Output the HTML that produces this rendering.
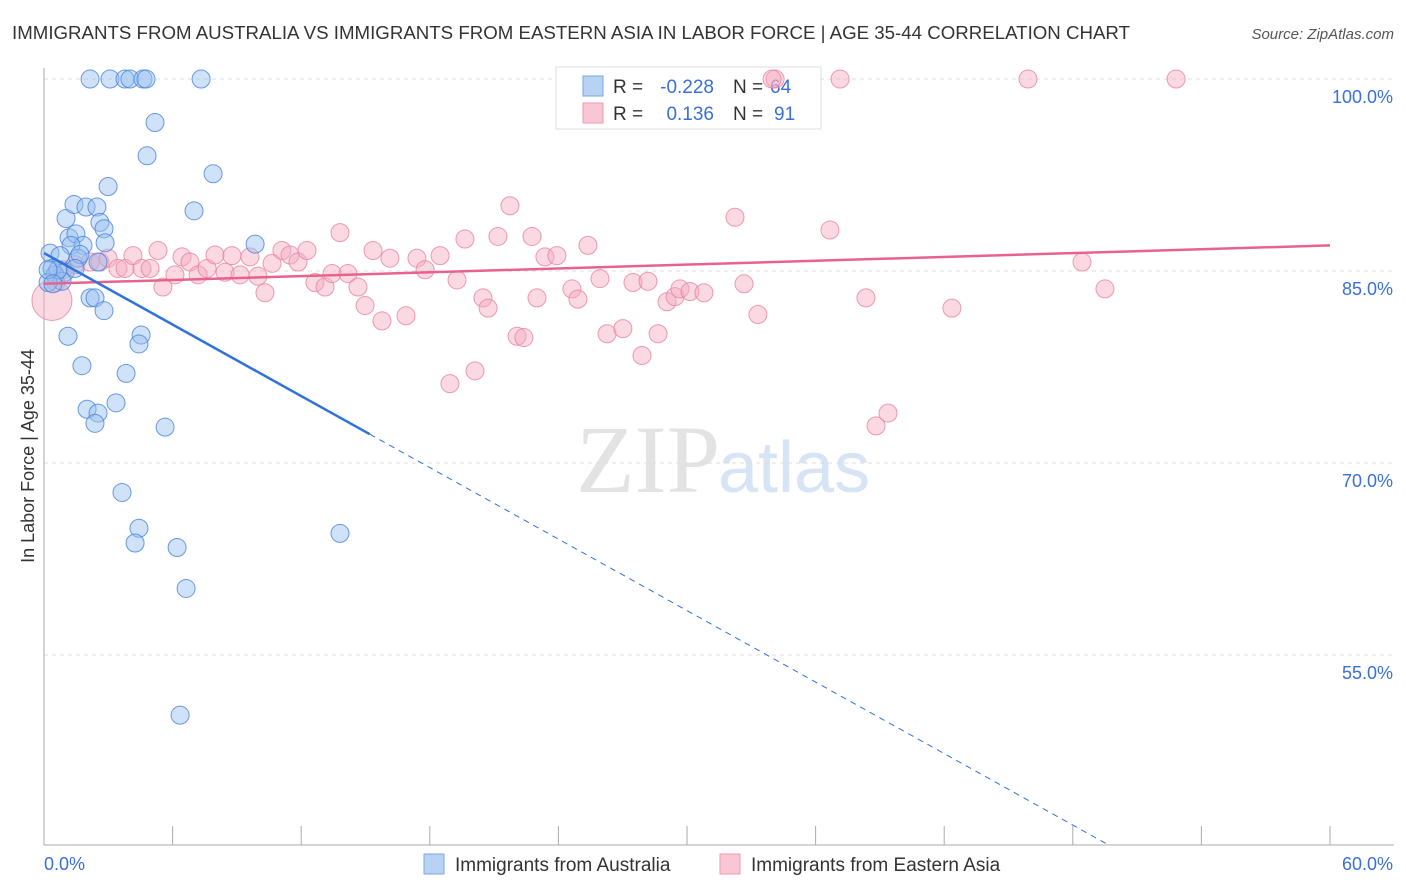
<!DOCTYPE html>
<html><head><meta charset="utf-8"><style>
body{margin:0;background:#fff;font-family:"Liberation Sans",sans-serif}
svg{display:block}
</style></head><body>
<svg id="chart" width="1406" height="892">
<text x="12" y="39" font-size="18" fill="#333" textLength="1118" lengthAdjust="spacingAndGlyphs">IMMIGRANTS FROM AUSTRALIA VS IMMIGRANTS FROM EASTERN ASIA IN LABOR FORCE | AGE 35-44 CORRELATION CHART</text>
<text x="1394" y="39" font-size="15" fill="#555" font-style="italic" text-anchor="end">Source: ZipAtlas.com</text>
<text x="34" y="456" font-size="18" fill="#333" transform="rotate(-90 34 456)" text-anchor="middle">In Labor Force | Age 35-44</text>
<text x="720" y="492" font-size="96" fill="#e3e3e3" text-anchor="end" font-family="Liberation Serif,serif">ZIP</text>
<text x="718" y="492" font-size="72" fill="#d6e4f5">atlas</text>
<g id="grid"></g>
<g>
<rect x="556" y="67" width="265" height="62" fill="#fff" stroke="#ddd"/>
<rect x="583" y="76" width="20" height="20" fill="#b8d2f4" stroke="#7aa6e2"/>
<rect x="583" y="103" width="20" height="20" fill="#f8c6d4" stroke="#ee9ab2"/>
<text x="613" y="93" font-size="19" fill="#333">R =</text>
<text x="714" y="93" font-size="19" fill="#3a6fd8" text-anchor="end">-0.228</text>
<text x="733" y="93" font-size="19" fill="#333">N =</text>
<text x="770" y="93" font-size="19" fill="#3a6fd8">64</text>
<text x="613" y="120" font-size="19" fill="#333">R =</text>
<text x="714" y="120" font-size="19" fill="#3a6fd8" text-anchor="end">0.136</text>
<text x="733" y="120" font-size="19" fill="#333">N =</text>
<text x="774" y="120" font-size="19" fill="#3a6fd8">91</text>
</g>
<g id="pts"></g><g id="trend"></g>
<g>
<rect x="424" y="854" width="20" height="20" fill="#b8d2f4" stroke="#7aa6e2"/>
<text x="455" y="871" font-size="19" fill="#333">Immigrants from Australia</text>
<rect x="720" y="854" width="20" height="20" fill="#f8c6d4" stroke="#ee9ab2"/>
<text x="751" y="871" font-size="19" fill="#333">Immigrants from Eastern Asia</text>
</g>
<text x="44" y="870" font-size="18" fill="#3a6fd8">0.0%</text>
<text x="1393" y="870" font-size="18" fill="#3a6fd8" text-anchor="end">60.0%</text>
</svg>
<script>
const yTicks=[100,85,70,55];
const yTickLabels=["100.0%","85.0%","70.0%","55.0%"];
const blueX=[2.15,3.08,3.78,4.01,4.62,4.76,7.33,5.18,4.81,7.89,2.99,7.0,1.03,1.40,1.96,2.47,2.61,2.80,1.17,1.49,1.82,1.26,2.85,9.85,0.28,0.75,1.59,1.68,2.52,0.37,0.98,1.45,0.51,0.84,0.19,2.15,2.38,2.80,1.12,4.53,4.43,1.77,3.83,3.36,2.01,2.52,2.38,5.65,3.64,4.43,4.25,6.21,6.63,13.81,6.35,0.65,0.19,0.42];
const blueY=[100,100,100,100,100,100,100,96.6,94.0,92.6,91.6,89.7,89.1,90.2,90.0,90.0,88.8,88.3,87.6,87.9,87.0,87.0,87.2,87.1,86.4,86.2,86.0,86.3,85.7,85.2,84.9,85.2,84.7,84.2,84.1,82.9,82.9,81.9,79.9,80.0,79.3,77.6,77.0,74.7,74.2,73.9,73.1,72.8,67.7,64.9,63.75,63.4,60.2,64.5,50.3,85.1,85.1,84.0];
const pinkX=[0.56,0.89,1.45,2.15,2.61,2.99,3.45,3.78,4.15,4.57,4.95,5.32,5.55,6.11,6.44,6.81,7.19,7.61,7.98,8.45,8.77,9.15,9.61,9.98,10.31,10.64,11.10,11.48,11.85,12.27,12.64,13.11,13.44,13.81,14.18,14.65,14.98,15.35,15.77,16.14,16.89,17.40,17.78,18.48,18.94,19.27,19.64,20.11,20.48,20.72,21.18,21.74,22.07,22.39,22.77,23.00,23.37,23.93,24.63,24.91,25.38,25.94,26.27,27.01,27.48,27.90,28.18,28.65,29.07,29.44,29.67,30.14,30.79,32.24,32.66,33.31,34.11,36.67,37.14,38.35,38.82,39.38,42.36,45.91,48.43,49.50,52.82,33.97];
const pinkY=[84.1,85.1,85.5,85.7,85.7,86.0,85.2,85.2,86.2,85.2,85.2,86.6,83.75,84.7,86.1,85.7,84.7,85.2,86.25,84.9,86.2,84.7,86.1,84.6,83.3,85.6,86.6,86.25,85.7,86.6,84.1,83.75,84.8,88.0,84.8,83.75,82.3,86.6,81.1,86.0,81.5,86.0,85.1,86.2,76.2,84.3,87.5,77.2,82.9,82.1,87.7,90.1,79.9,79.8,87.7,82.9,86.1,86.2,83.6,82.8,87.0,84.4,80.1,80.5,84.1,78.4,84.2,80.1,82.6,83.0,83.6,83.4,83.3,89.2,84.0,81.6,100,88.2,100,82.9,72.9,73.9,82.1,100,85.7,83.6,100,100];
const bigPinkX=[0.37], bigPinkY=[82.7];
const blueTrend=[86.4,-0.931], pinkTrend=[84.0,0.05];
const X=v=>44+v/60*1286, Y=v=>79+(100-v)*12.8;
const ns="http://www.w3.org/2000/svg";
function mk(p,t,a){const e=document.createElementNS(ns,t);for(const k in a)e.setAttribute(k,a[k]);p.appendChild(e);return e;}
const g=document.getElementById('grid');
yTicks.forEach((t,i)=>{
 const l=mk(g,'line',{x1:44,x2:1394,y1:Y(t),y2:Y(t),stroke:'#ddd','stroke-dasharray':'4,4'});
 
 
 const tx=mk(g,'text',{x:1393,y:Y(t)+24,'font-size':18,fill:'#3a6fd8','text-anchor':'end'});
 tx.textContent=yTickLabels[i];
 
 
});
const ax=mk(g,'line',{x1:44,x2:44,y1:68,y2:845,stroke:'#aaa'});


const bx=mk(g,'line',{x1:44,x2:1394,y1:845,y2:845,stroke:'#aaa'});


for(let i=0;i<=10;i++){const t=mk(g,'line',{x1:X(i*6),x2:X(i*6),y1:826,y2:845,stroke:'#aaa'});
 
 }
const p=document.getElementById('pts');
pinkX.forEach((x,i)=>{const c=mk(p,'circle',{cx:X(x),cy:Y(pinkY[i]),r:9,fill:'rgba(245,170,192,0.45)',stroke:'rgba(232,130,160,0.8)','stroke-width':1});
 
 });
bigPinkX.forEach((x,i)=>{const c=mk(p,'circle',{cx:X(x),cy:Y(bigPinkY[i]),r:20,fill:'rgba(245,170,192,0.45)',stroke:'rgba(232,130,160,0.8)'});
 
 });
blueX.forEach((x,i)=>{const c=mk(p,'circle',{cx:X(x),cy:Y(blueY[i]),r:9,fill:'rgba(150,190,240,0.45)',stroke:'rgba(70,130,220,0.8)','stroke-width':1});
 
 });
const tr=document.getElementById('trend');
const pl=mk(tr,'line',{x1:X(0),y1:Y(pinkTrend[0]),x2:X(60),y2:Y(pinkTrend[0]+pinkTrend[1]*60),stroke:'#e8628e','stroke-width':2.5});


const bf=x=>blueTrend[0]+blueTrend[1]*x;
const xs=15.2, xe=(40.2-blueTrend[0])/blueTrend[1];
const b1=mk(tr,'line',{x1:X(0),y1:Y(bf(0)),x2:X(xs),y2:Y(bf(xs)),stroke:'#2f72d8','stroke-width':2.5});


const b2=mk(tr,'line',{x1:X(xs),y1:Y(bf(xs)),x2:X(xe),y2:Y(bf(xe)),stroke:'#2f72d8','stroke-width':1,'stroke-dasharray':'6,5'});


</script>
</body></html>
